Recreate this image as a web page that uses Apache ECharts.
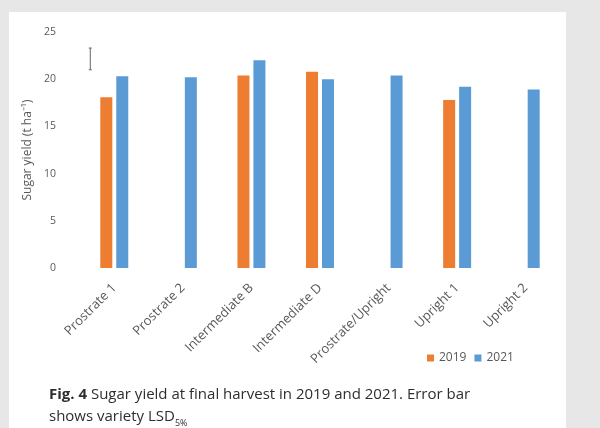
<!DOCTYPE html>
<html><head><meta charset="utf-8">
<script src="https://cdn.jsdelivr.net/npm/echarts@6/dist/echarts.min.js"></script>
<style>html,body{margin:0;padding:0;background:#e9e9e9;}#c{width:600px;height:428px;}</style>
</head><body><div id="c"></div>
<script>
const categories = ["Prostrate 1","Prostrate 2","Intermediate B","Intermediate D","Prostrate/Upright","Upright 1","Upright 2"];
const y2019 = [18.1, null, 20.4, 20.8, null, 17.8, null];
const y2021 = [20.3, 20.2, 22.0, 20.0, 20.4, 19.2, 18.9];
const seriesNames = ["2019","2021"];
const yTicks = {min:0, max:25, interval:5};
const lsdCenter = 22.15;
const lsdValue = 2.3;

const chart = echarts.init(document.getElementById('c'), null, {renderer:'canvas'});
chart.setOption({
  backgroundColor:'#e7e7e7',
  animation:false,
  graphic:[{type:'rect', shape:{x:9,y:12,width:557,height:416}, style:{fill:'#ffffff'}, z:-10}],
  title:{
    text:'{b|Fig. 4} Sugar yield at final harvest in 2019 and 2021. Error bar\nshows variety LSD{s|5%}',
    left:44, top:379,
    textStyle:{
      fontFamily:'Open Sans', fontSize:15, fontWeight:'normal', color:'#2e2e2e', lineHeight:22,
      rich:{b:{fontFamily:'Open Sans',fontSize:15,fontWeight:'bold',color:'#2e2e2e',lineHeight:22},
            s:{fontFamily:'Open Sans',fontSize:9,color:'#2e2e2e',verticalAlign:'bottom',lineHeight:22,padding:[6,0,0,0]}}
    }
  },
  legend:{
    data:seriesNames, left:422, top:347, itemWidth:7, itemHeight:7, itemGap:8,
    icon:'rect',
    textStyle:{fontFamily:'Open Sans',fontSize:12,color:'#595959'}
  },
  grid:{left:80, right:40, top:32, bottom:160, containLabel:false},
  xAxis:{
    type:'category', data:categories,
    axisLine:{show:false}, axisTick:{show:false},
    axisLabel:{rotate:45, fontFamily:'Open Sans', fontSize:13, color:'#595959', margin:18, interval:0}
  },
  yAxis:{
    type:'value', min:yTicks.min, max:yTicks.max, interval:yTicks.interval,
    name:'Sugar yield (t ha⁻¹)', nameLocation:'middle', nameGap:46, nameRotate:90,
    nameTextStyle:{fontFamily:'Open Sans', fontSize:12, color:'#595959'},
    axisLine:{show:false}, axisTick:{show:false}, splitLine:{show:false},
    axisLabel:{fontFamily:'Open Sans', fontSize:10.5, color:'#595959', margin:24}
  },
  series:[
    {name:seriesNames[0], type:'bar', data:y2019, barWidth:12, barGap:'33%', itemStyle:{color:'#ED7D31'}},
    {name:seriesNames[1], type:'bar', data:y2021, barWidth:12, barGap:'33%', itemStyle:{color:'#5B9BD5'}},
    {type:'custom', data:[[0, lsdCenter, lsdValue]], z:5,
     renderItem:function(params, api){
       const c = api.value(1), h = api.value(2);
       const top = api.coord([api.value(0), c + h/2]);
       const bot = api.coord([api.value(0), c - h/2]);
       const w = api.size([1,0])[0];
       const x = top[0] - w*0.35;
       return {type:'group', children:[
         {type:'line', shape:{x1:x,y1:top[1],x2:x,y2:bot[1]}, style:{stroke:'#666',lineWidth:1}},
         {type:'line', shape:{x1:x-1.5,y1:top[1],x2:x+1.5,y2:top[1]}, style:{stroke:'#666',lineWidth:1}},
         {type:'line', shape:{x1:x-1.5,y1:bot[1],x2:x+1.5,y2:bot[1]}, style:{stroke:'#666',lineWidth:1}}
       ]};
     }}
  ]
});
</script></body></html>
